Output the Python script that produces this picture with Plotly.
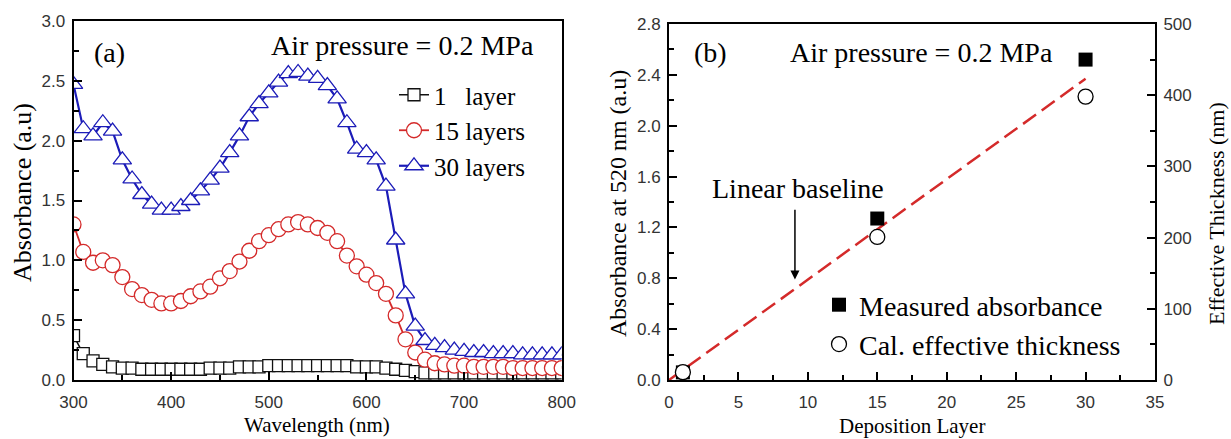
import plotly.graph_objects as go

# ---------------- data ----------------
wavelength = list(range(300, 801, 10))

abs_1layer = [0.37, 0.22, 0.16, 0.13, 0.11, 0.10, 0.10, 0.09, 0.09, 0.09,
              0.09, 0.09, 0.09, 0.09, 0.10, 0.10, 0.10, 0.11, 0.11, 0.11,
              0.12, 0.12, 0.12, 0.12, 0.12, 0.12, 0.12, 0.12, 0.12, 0.11,
              0.11, 0.11, 0.10, 0.09, 0.08, 0.07, 0.06, 0.06, 0.06, 0.06,
              0.06, 0.06, 0.06, 0.06, 0.06, 0.06, 0.06, 0.06, 0.06, 0.06, 0.06]

abs_15layers = [1.30, 1.07, 0.98, 1.00, 0.96, 0.86, 0.76, 0.71, 0.67, 0.64,
                0.64, 0.66, 0.70, 0.74, 0.78, 0.85, 0.91, 0.99, 1.08, 1.16,
                1.21, 1.26, 1.30, 1.32, 1.30, 1.27, 1.23, 1.16, 1.04, 0.95,
                0.88, 0.81, 0.72, 0.54, 0.34, 0.23, 0.17, 0.14, 0.13, 0.12,
                0.12, 0.11, 0.11, 0.11, 0.11, 0.10, 0.10, 0.10, 0.10, 0.10, 0.10]

abs_30layers = [2.47, 2.10, 2.04, 2.15, 2.08, 1.84, 1.68, 1.55, 1.47, 1.42,
                1.42, 1.45, 1.50, 1.58, 1.67, 1.77, 1.90, 2.04, 2.20, 2.31,
                2.40, 2.49, 2.56, 2.57, 2.54, 2.52, 2.46, 2.35, 2.15, 1.93,
                1.90, 1.84, 1.62, 1.17, 0.72, 0.45, 0.33, 0.29, 0.27, 0.25,
                0.24, 0.23, 0.23, 0.22, 0.22, 0.22, 0.21, 0.21, 0.21, 0.21, 0.21]

layers = [1, 15, 30]
measured_abs = [0.06, 1.27, 2.52]
eff_thickness = [11, 201, 398]

baseline_x = [0, 30]
baseline_y = [0, 2.37]

W, H = 1231, 439
SERIF = "Liberation Serif"
SANS = "Liberation Sans"


def px(x):
    return x / W


def py(y):
    return 1 - y / H


fig = go.Figure()

# ---------------- panel (a) ----------------
fig.add_trace(go.Scatter(
    x=wavelength, y=abs_1layer, mode="lines+markers", name="1\u00a0\u00a0\u00a0layer",
    line=dict(color="#111111", width=1.5),
    marker=dict(symbol="square", size=12, color="white", line=dict(color="#111111", width=1.3)),
    xaxis="x", yaxis="y", legend="legend"))
fig.add_trace(go.Scatter(
    x=wavelength, y=abs_15layers, mode="lines+markers", name="15 layers",
    line=dict(color="#d42a2a", width=1.8),
    marker=dict(symbol="circle", size=15, color="white", line=dict(color="#d42a2a", width=1.3)),
    xaxis="x", yaxis="y", legend="legend"))
fig.add_trace(go.Scatter(
    x=wavelength, y=abs_30layers, mode="lines+markers", name="30 layers",
    line=dict(color="#1c1cb8", width=2.2),
    marker=dict(symbol="triangle-up", size=16, color="white", line=dict(color="#1c1cb8", width=1.3)),
    xaxis="x", yaxis="y", legend="legend"))

# ---------------- panel (b) ----------------
fig.add_trace(go.Scatter(
    x=baseline_x, y=baseline_y, mode="lines", showlegend=False,
    line=dict(color="#d42a2a", width=2.5, dash="16px,7px"),
    xaxis="x2", yaxis="y2"))
fig.add_trace(go.Scatter(
    x=layers, y=measured_abs, mode="markers", name="Measured absorbance",
    marker=dict(symbol="square", size=14, color="black"),
    xaxis="x2", yaxis="y2", legend="legend2"))
fig.add_trace(go.Scatter(
    x=layers, y=eff_thickness, mode="markers", name="Cal. effective thickness",
    marker=dict(symbol="circle", size=15, color="white", line=dict(color="black", width=1.3)),
    xaxis="x2", yaxis="y3", legend="legend2"))

axis_common = dict(
    showline=True, linecolor="black", linewidth=2,
    ticks="inside", ticklen=8, tickwidth=1.5, tickcolor="black",
    showgrid=False, zeroline=False, automargin=False,
    tickfont=dict(family=SANS, size=17, color="#333333"),
)

fig.update_layout(
    template="none",
    width=W, height=H,
    margin=dict(l=0, r=0, t=0, b=0, pad=0),
    paper_bgcolor="white", plot_bgcolor="white",
    xaxis=dict(domain=[px(73.5), px(561.7)], range=[300, 800], dtick=100, anchor="y",
               mirror=True, ticklabelstandoff=6,
               minor=dict(ticks="inside", ticklen=5, dtick=50, tickwidth=1.5, tickcolor="black"),
               **axis_common),
    yaxis=dict(domain=[py(380), py(21)], range=[0, 3.0], dtick=0.5, tickformat=".1f", anchor="x",
               mirror=True, ticklabelstandoff=3,
               minor=dict(ticks="inside", ticklen=5, dtick=0.25, tickwidth=1.5, tickcolor="black"),
               **axis_common),
    xaxis2=dict(domain=[px(669), px(1155)], range=[0, 35], dtick=5, anchor="y2",
                mirror=True, ticklabelstandoff=6,
                minor=dict(ticks="inside", ticklen=5, dtick=2.5, tickwidth=1.5, tickcolor="black"),
                **axis_common),
    yaxis2=dict(domain=[py(380), py(24)], range=[0, 2.8], dtick=0.4, tickformat=".1f", anchor="x2",
                ticklabelstandoff=3,
                minor=dict(ticks="inside", ticklen=5, dtick=0.2, tickwidth=1.5, tickcolor="black"),
                **axis_common),
    yaxis3=dict(overlaying="y2", side="right", anchor="x2", range=[0, 500], dtick=100,
                ticklabelstandoff=3,
                minor=dict(ticks="inside", ticklen=5, dtick=50, tickwidth=1.5, tickcolor="black"),
                **axis_common),
    legend=dict(x=px(394), y=py(72), xanchor="left", yanchor="top",
                font=dict(family=SERIF, size=25, color="black"),
                bgcolor="rgba(0,0,0,0)", borderwidth=0, itemsizing="trace"),
    legend2=dict(x=px(819), y=py(280), xanchor="left", yanchor="top",
                 font=dict(family=SERIF, size=28, color="black"),
                 bgcolor="rgba(0,0,0,0)", borderwidth=0, itemsizing="trace"),
)

annotations = [
    dict(text="(a)", x=px(92), y=py(53), xanchor="left", yanchor="middle", size=28),
    dict(text="Air pressure = 0.2 MPa", x=px(269), y=py(45), xanchor="left", yanchor="middle", size=28),
    dict(text="(b)", x=px(692), y=py(53), xanchor="left", yanchor="middle", size=28),
    dict(text="Air pressure = 0.2 MPa", x=px(788), y=py(52), xanchor="left", yanchor="middle", size=28),
    dict(text="Linear baseline", x=px(798), y=py(188), xanchor="center", yanchor="middle", size=28),
    dict(text="Absorbance (a.u)", x=px(22), y=py(193), xanchor="center", yanchor="middle", size=26, angle=-90),
    dict(text="Wavelength (nm)", x=px(317), y=py(425), xanchor="center", yanchor="middle", size=21),
    dict(text="Absorbance at 520 nm (a.u)", x=px(618), y=py(204), xanchor="center", yanchor="middle", size=24, angle=-90),
    dict(text="Deposition Layer", x=px(912), y=py(426), xanchor="center", yanchor="middle", size=21),
    dict(text="Effective Thickness (nm)", x=px(1217), y=py(214), xanchor="center", yanchor="middle", size=22, angle=-90),
]
for a in annotations:
    fig.add_annotation(
        text=a["text"], x=a["x"], y=a["y"], xref="paper", yref="paper",
        xanchor=a["xanchor"], yanchor=a["yanchor"], showarrow=False,
        textangle=a.get("angle", 0),
        font=dict(family=SERIF, size=a["size"], color="black"))

# arrow pointing to the linear baseline
fig.add_annotation(
    x=9.07, y=0.79, xref="x2", yref="y2",
    ax=9.07, ay=1.35, axref="x2", ayref="y2",
    text="", showarrow=True, arrowhead=2, arrowsize=1.2, arrowwidth=1.5, arrowcolor="black")

fig.write_html("out.html")
